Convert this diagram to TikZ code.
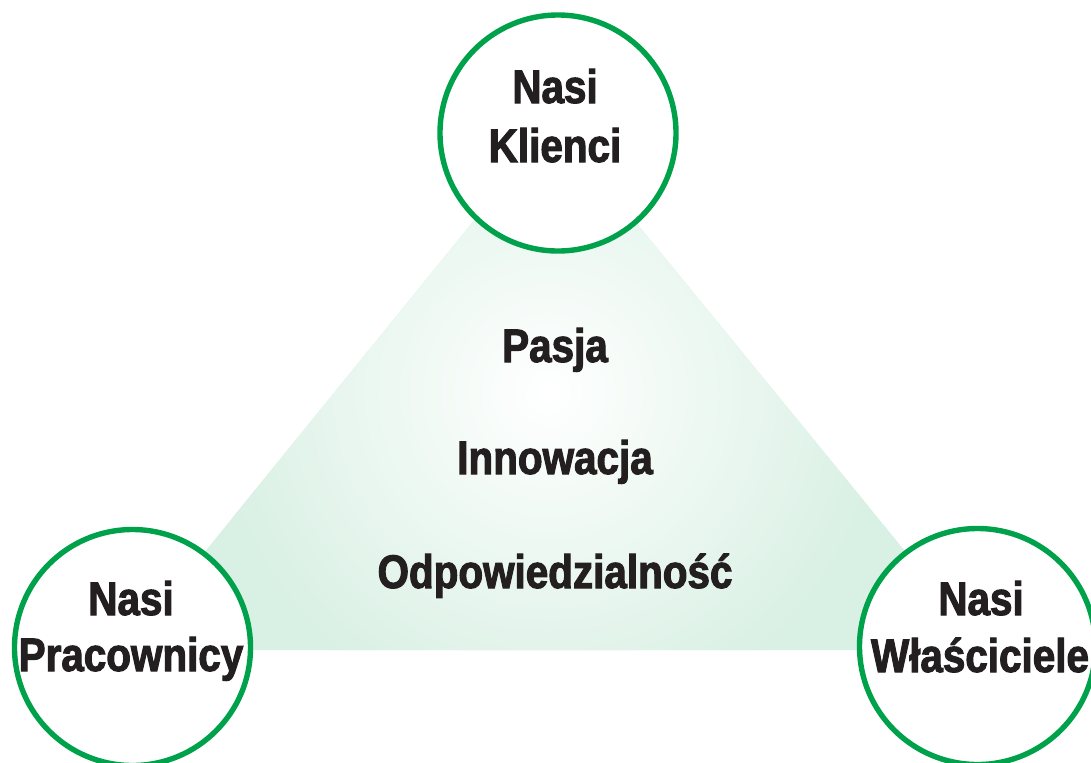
\documentclass[tikz,border=0pt]{standalone}
\usepackage{fontspec}
\setmainfont[FakeStretch=0.86,FakeBold=2.2]{Liberation Sans}
\begin{document}
\begin{tikzpicture}[x=0.5pt,y=-0.5pt,
  ring/.style={circle, draw=ringgreen, line width=2.7pt, fill=white, minimum size=118pt, inner sep=0pt},
  lbl/.style={anchor=base, inner sep=0pt, font=\fontsize{23.5}{28}\selectfont\bfseries, text=textblack}]
\definecolor{ringgreen}{HTML}{00A14B}
\definecolor{trigreen}{HTML}{D9F0E4}
\definecolor{textblack}{HTML}{231F20}
\useasboundingbox (0,0) rectangle (1091,762);
\clip (0,0) rectangle (1091,762);
% triangle with radial gradient
\coordinate (ta) at (554,122);
\coordinate (tl) at (125,650);
\coordinate (tr) at (986,650);
\begin{scope}
  \clip (ta) -- (tl) -- (tr) -- cycle;
  \fill[trigreen] (ta) -- (tl) -- (tr) -- cycle;
  \shade[inner color=white, outer color=trigreen] (548,392) circle (170pt);
\end{scope}
% circles
\node[ring] (klienci) at (558,133) {};
\node[ring] (pracownicy) at (132.5,647.5) {};
\node[ring] (wlasciciele) at (977.5,646.5) {};
% circle texts
\node[lbl] (k1) at (555,103) {Nasi};
\node[lbl] (k2) at (555,162) {Klienci};
\node[lbl] (p1) at (131,615) {Nasi};
\node[lbl] (p2) at (131,671) {Pracownicy};
\node[lbl] (w1) at (981,615) {Nasi};
\node[lbl] (w2) at (980,672) {Właściciele};
% values
\node[lbl] (v1) at (555,362) {Pasja};
\node[lbl] (v2) at (555,474) {Innowacja};
\node[lbl] (v3) at (555,588) {Odpowiedzialność};
\end{tikzpicture}
\end{document}
